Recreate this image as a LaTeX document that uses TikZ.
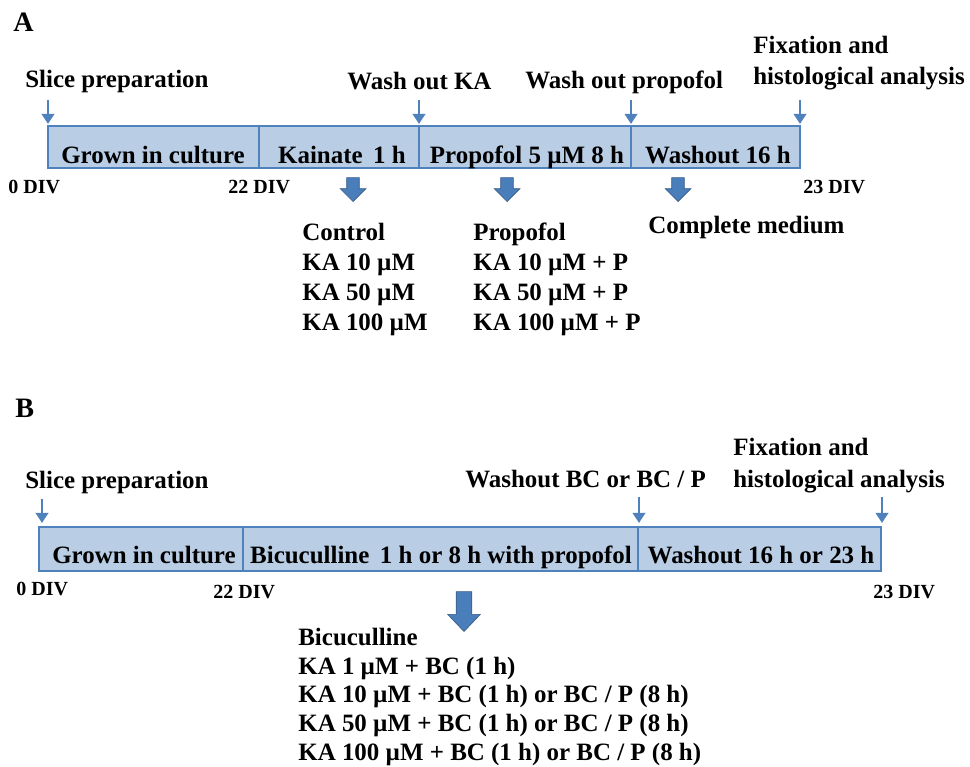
\documentclass[tikz,border=0pt]{standalone}
\usepackage{fontspec}
\setmainfont{Liberation Serif}
\usetikzlibrary{arrows.meta,shapes.arrows,calc}
\definecolor{barfill}{RGB}{185,205,229}
\definecolor{barline}{RGB}{79,129,189}
\definecolor{fatfill}{RGB}{74,126,187}
\definecolor{fatline}{RGB}{56,93,138}
\begin{document}
\begin{tikzpicture}[x=0.02cm,y=-0.02cm,
  every node/.style={font=\bfseries\fontsize{14.2}{17}\selectfont,inner sep=0pt},
  seg/.style={draw=barline,fill=barfill,line width=1.5pt},
  lbl/.style={anchor=base west},
  segtext/.style={anchor=base},
  divlbl/.style={anchor=base west,font=\bfseries\fontsize{11.4}{13}\selectfont},
  panel/.style={anchor=base west,font=\bfseries\fontsize{16}{19}\selectfont},
  tick/.style={-{Triangle[length=5.7pt,width=7pt]},draw=barline,line width=1.4pt},
  fat/.style={single arrow,rotate=-90,anchor=tip,fill=fatfill,draw=fatline,line width=0.4pt,
    single arrow head indent=0pt,inner xsep=0pt},
  list/.style={anchor=north west,align=left}]
\useasboundingbox (0,0) rectangle (970,767);

% ---- panel A ----
\node[panel] (pA) at (13,32) {A};
\coordinate (a0) at (48,126);
\coordinate (a1) at (259,126);
\coordinate (a2) at (419,126);
\coordinate (a3) at (631,126);
\coordinate (a4) at (800,126);
\draw[seg] (a0) rectangle (259,168);
\draw[seg] (a1) rectangle (419,168);
\draw[seg] (a2) rectangle (631,168);
\draw[seg] (a3) rectangle (800,168);
\node[segtext] (growA) at (153,163) {Grown in culture};
\node[segtext] (kain) at (342,163) {Kainate\hspace{6pt}1 h};
\node[segtext] (prop) at (527,163) {Propofol 5 µM 8 h};
\node[segtext] (washA) at (718,163) {Washout 16 h};

\node[lbl] (sliceA) at (25,88) {Slice preparation};
\node[lbl] (woKA) at (347,90) {Wash out KA};
\node[lbl] (woP) at (525,89) {Wash out propofol};
\node[lbl] (fixA) at (753,54) {Fixation and};
\node[lbl] (histA) at (753,85) {histological analysis};
\draw[tick] ($(a0)+(0,-26)$) -- ($(a0)+(0,-2)$);
\draw[tick] ($(a2)+(0,-26)$) -- ($(a2)+(0,-2)$);
\draw[tick] ($(a3)+(0,-26)$) -- ($(a3)+(0,-2)$);
\draw[tick] ($(a4)+(0,-26)$) -- ($(a4)+(0,-2)$);

\node[divlbl] (d0A) at (8,193) {0 DIV};
\node[divlbl] (d22A) at (228,193) {22 DIV};
\node[divlbl] (d23A) at (803,193) {23 DIV};

\node[fat,minimum height=13.6pt,inner ysep=3.4pt,single arrow head extend=3.7pt,
  single arrow tip angle=90] (dnKA) at (353,202) {};
\node[fat,minimum height=13.6pt,inner ysep=3.4pt,single arrow head extend=3.7pt,
  single arrow tip angle=90] (dnP) at (507,202) {};
\node[fat,minimum height=13.6pt,inner ysep=3.4pt,single arrow head extend=3.7pt,
  single arrow tip angle=90] (dnW) at (678,202) {};

\node[list] (ctrl) at (302,223) {Control\\KA 10 µM\\KA 50 µM\\KA 100 µM};
\node[list] (propl) at (473,223) {Propofol\\KA 10 µM + P\\KA 50 µM + P\\KA 100 µM + P};
\node[lbl] (medium) at (648,233) {Complete medium};

% ---- panel B ----
\node[panel] (pB) at (15,417) {B};
\coordinate (b0) at (39,527);
\coordinate (b1) at (243,527);
\coordinate (b2) at (638,527);
\coordinate (b3) at (881,527);
\draw[seg] (b0) rectangle (243,571);
\draw[seg] (b1) rectangle (638,571);
\draw[seg] (b2) rectangle (881,571);
\node[segtext] (growB) at (144,563) {Grown in culture};
\node[segtext] (bicu) at (441,563) {Bicuculline\hspace{6pt}1 h or 8 h with propofol};
\node[segtext] (washB) at (761,563) {Washout 16 h or 23 h};

\node[lbl] (sliceB) at (25,488) {Slice preparation};
\node[lbl] (woBC) at (465,487) {Washout BC or BC / P};
\node[lbl] (fixB) at (733,455) {Fixation and};
\node[lbl] (histB) at (733,487) {histological analysis};
\draw[tick] ($(b0)+(3,-28)$) -- ($(b0)+(3,-4)$);
\draw[tick] ($(b2)+(1,-30)$) -- ($(b2)+(1,-4)$);
\draw[tick] ($(b3)+(1,-30)$) -- ($(b3)+(1,-4)$);

\node[divlbl] (d0B) at (16,595) {0 DIV};
\node[divlbl] (d22B) at (213,598) {22 DIV};
\node[divlbl] (d23B) at (873,598) {23 DIV};

\node[fat,minimum height=22.7pt,inner ysep=4.25pt,single arrow head extend=4.8pt,
  single arrow tip angle=87] (dnBC) at (464,632) {};

\node[list,font=\bfseries\fontsize{14.2}{16.3}\selectfont] (bcl) at (298,628)
  {Bicuculline\\KA 1 µM + BC (1 h)\\KA 10 µM + BC (1 h) or BC / P (8 h)\\KA 50 µM + BC (1 h) or BC / P (8 h)\\KA 100 µM + BC (1 h) or BC / P (8 h)};
\end{tikzpicture}
\end{document}
